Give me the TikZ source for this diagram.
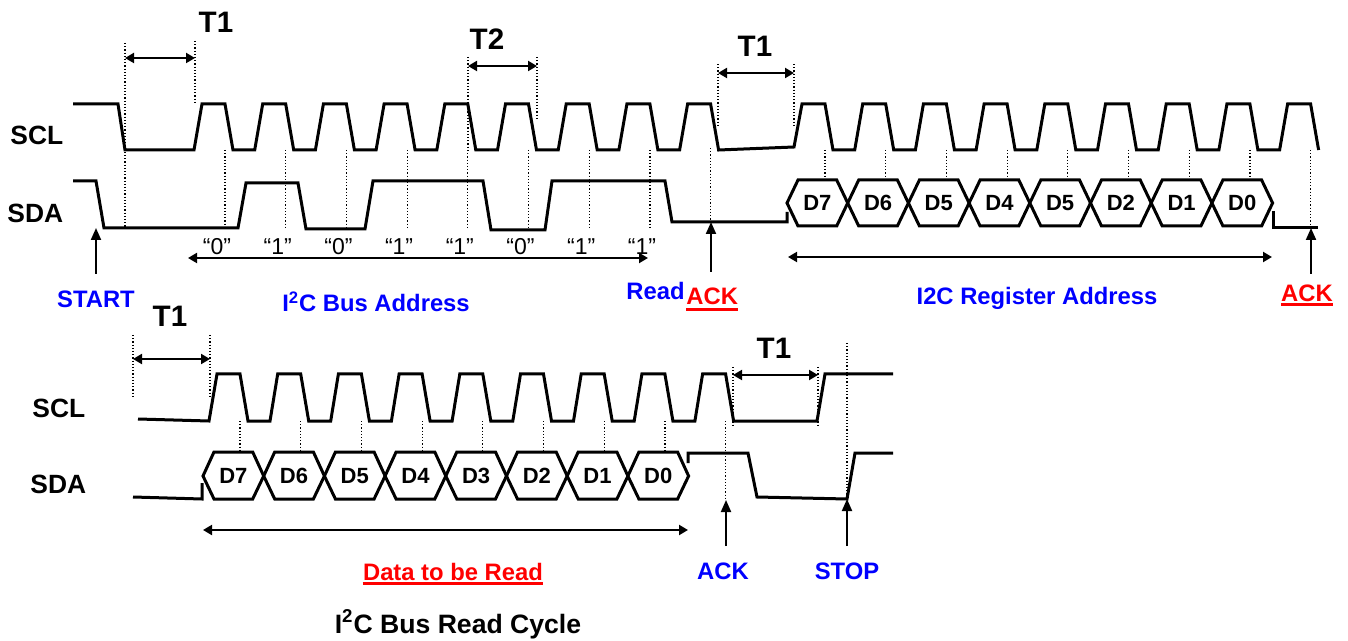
\documentclass[tikz,border=0pt]{standalone}
\usepackage{fontspec}
\setmainfont{Liberation Sans}
\usetikzlibrary{arrows.meta, positioning, calc}

\begin{document}
\begin{tikzpicture}[
  x=0.5pt, y=-0.5pt,
  sig/.style={line width=1.5pt},
  samp/.style={densely dotted, line width=0.6pt},
  dim/.style={{Triangle[length=4.5pt,width=5pt]}-{Triangle[length=4.5pt,width=5pt]}, line width=1pt},
  up/.style={-{Triangle[length=6pt,width=5pt]}, line width=1pt},
  lbl/.style={inner sep=0pt, anchor=base, font=\fontsize{11.9}{14}\selectfont\bfseries},
  sname/.style={inner sep=0pt, anchor=base west, font=\fontsize{13.2}{15}\selectfont\bfseries},
  tlbl/.style={inner sep=0pt, anchor=base, font=\fontsize{14.8}{18}\selectfont\bfseries},
  bit/.style={inner sep=0pt, anchor=base, font=\fontsize{11.5}{14}\selectfont},
  dat/.style={inner sep=0pt, font=\fontsize{11}{12}\selectfont\bfseries},
  uline/.style={red, line width=1.5pt},
]
\useasboundingbox (0,0) rectangle (1348,641);

% ---- first cycle: address + register ----
\node[sname] (scl1) at (10,145) {SCL};
\node[sname] (sda1) at (7,223) {SDA};

\draw[sig] (73,104) -- (118,104) -- (125,150)
  foreach \i in {0,...,8}{ -- ({194+60.7*\i},150) -- ({202+60.7*\i},104) -- ({225+60.7*\i},104) -- ({233+60.7*\i},150) }
  -- (794,147) -- (802,104) -- (825,104) -- (833,150)
  foreach \i in {1,...,8}{ -- ({794+60.7*\i},150) -- ({802+60.7*\i},104) -- ({825+60.7*\i},104) -- ({833+60.7*\i},150) };

\draw[sig] (73,181) -- (96,181) -- (104,228) -- (238,228) -- (246,183) -- (298,183)
  -- (306,229) -- (365,229) -- (373,181) -- (483,181) -- (491,230) -- (545,230)
  -- (552,181) -- (665,181) -- (672,222) -- (787,222) -- (787,212);
\draw[sig] (1273,211) -- (1273,228) -- (1318,228);

\foreach \d [count=\i from 0] in {D7,D6,D5,D4,D5,D2,D1,D0} {
  \pgfmathsetmacro\xa{787+60.7*\i}
  \pgfmathsetmacro\xb{\xa+60.7}
  \draw[sig] (\xa,203) -- (\xa+11,180) -- (\xb-11,180) -- (\xb,203) -- (\xb-11,226) -- (\xa+11,226) -- cycle;
  \node[dat] (reg\i) at ({(\xa+\xb)/2},203) {\d};
}

\foreach \i in {0,...,7} {
  \draw[samp] ({225+60.7*\i},150) -- ({225+60.7*\i},227);
  \draw[samp] ({825+60.7*\i},150) -- ({825+60.7*\i},180);
}
\draw[samp] (710.6,148) -- (710.6,222);
\draw[samp] (1310.6,150) -- (1310.6,228);

\foreach \b [count=\i from 0] in {0,1,0,1,1,0,1,1}
  \node[bit] (bit\i) at ({217+60.7*\i},255) {``\b''};

% timing marks
\draw[samp] (125,43) -- (125,228);
\draw[samp] (195,41) -- (195,103);
\draw[dim] (125,58) -- (195,58);
\node[tlbl] (t1a) at (216,33) {T1};

\draw[samp] (468,57) -- (468,150);
\draw[samp] (537,57) -- (537,118);
\draw[dim] (468,66) -- (537,66);
\node[tlbl] (t2) at (487,50) {T2};

\draw[samp] (718,64) -- (718,127);
\draw[samp] (794,64) -- (794,127);
\draw[dim] (718,73) -- (794,73);
\node[tlbl] (t1b) at (755,57) {T1};

\draw[dim] (188,258) -- (648,258);
\draw[dim] (788,257) -- (1272,257);

\coordinate (startTip) at (96,228);
\coordinate (ackaTip) at (711,222);
\coordinate (ackbTip) at (1311,228);
\draw[up] (96,274) -- (startTip);
\draw[up] (711,272) -- (ackaTip);
\draw[up] (1311,274) -- (ackbTip);

\node[lbl, blue] (start) at (96,308) {START};
\node[lbl, blue] (busaddr) at (376,312) {I\textsuperscript{2}C Bus Address};
\node[lbl, blue, anchor=base east] (read) at (685,300) {Read};
\node[lbl, red, anchor=base west] (acka) at (686,305) {ACK};
\node[lbl, blue] (regaddr) at (1037,305) {I2C Register Address};
\node[lbl, red] (ackb) at (1307,302) {ACK};
\draw[uline] ($(acka.base west)+(0,5)$) -- ($(acka.base east)+(0,5)$);
\draw[uline] ($(ackb.base west)+(0,3)$) -- ($(ackb.base east)+(0,3)$);

% ---- second cycle: data read ----
\node[sname] (scl2) at (32,417) {SCL};
\node[sname] (sda2) at (30,493) {SDA};

\draw[sig] (138,419) -- (209,421)
  foreach \i in {0,...,8}{ -- ({217+60.7*\i},374) -- ({240+60.7*\i},374) -- ({248+60.7*\i},421) -- ({270+60.7*\i},421) }
  -- (817,421) -- (825,374) -- (893,374);

\draw[sig] (133,497) -- (202,499) -- (202,483);
\draw[sig] (688,463) -- (688,453) -- (748,453) -- (757,497) -- (847,499) -- (855,453) -- (893,453);

\foreach \d [count=\i from 0] in {D7,D6,D5,D4,D3,D2,D1,D0} {
  \pgfmathsetmacro\xa{203+60.7*\i}
  \pgfmathsetmacro\xb{\xa+60.7}
  \draw[sig] (\xa,476) -- (\xa+11,452) -- (\xb-11,452) -- (\xb,476) -- (\xb-11,499) -- (\xa+11,499) -- cycle;
  \node[dat] (dat\i) at ({(\xa+\xb)/2},476) {\d};
}

\foreach \i in {0,...,7}
  \draw[samp] ({240+60.7*\i},421) -- ({240+60.7*\i},452);
\draw[samp] (725.6,421) -- (725.6,499);

\draw[samp] (133,335) -- (133,397);
\draw[samp] (210,335) -- (210,397);
\draw[dim] (133,359) -- (210,359);
\node[tlbl] (t1c) at (170,327) {T1};

\draw[samp] (733,367) -- (733,427);
\draw[samp] (818,367) -- (818,427);
\draw[dim] (733,375) -- (818,375);
\node[tlbl] (t1d) at (774,358) {T1};

\draw[samp] (847,343) -- (847,499);

\draw[dim] (203,530) -- (688,530);

\coordinate (ackcTip) at (726,500);
\coordinate (stopTip) at (847,499);
\draw[up] (726,546) -- (ackcTip);
\draw[up] (847,546) -- (stopTip);

\node[lbl, red] (data) at (453,580) {Data to be Read};
\draw[uline] ($(data.base west)+(0,3)$) -- ($(data.base east)+(0,3)$);
\node[lbl, blue] (ackc) at (723,579) {ACK};
\node[lbl, blue] (stop) at (847,579) {STOP};
\node[inner sep=0pt, anchor=base, font=\fontsize{13.3}{16}\selectfont\bfseries] (title) at (458,633) {I\textsuperscript{2}C Bus Read Cycle};
\end{tikzpicture}
\end{document}
